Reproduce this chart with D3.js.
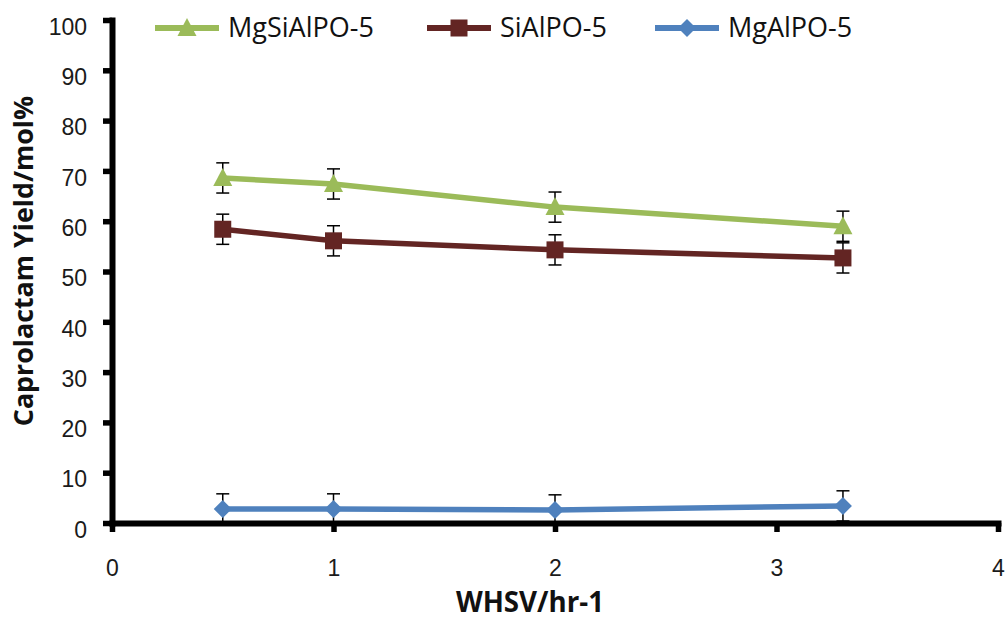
<!DOCTYPE html>
<html>
<head>
<meta charset="utf-8">
<script src="https://cdn.jsdelivr.net/npm/d3@7"></script>
<style>
	body { margin: 0; background: #fff; }
	svg { display: block; font-family: 'Open Sans', sans-serif; }
	.axis path, .axis line { stroke: #000; }
	.axis text { fill: #1a1a1a; font-size: 23px; }
</style>
</head>
<body>
<svg id="chart" width="1005" height="620"></svg>
<script>
// WHSV values on the x axis
const whsv = [0.5, 1, 2, 3.3];

// caprolactam yield (mol%) per catalyst
const mgSiAlPO = [68.6, 67.4, 62.8, 59.0];
const siAlPO = [58.4, 56.1, 54.3, 52.7];
const mgAlPO = [2.8, 2.8, 2.6, 3.4];

// error bar half widths
const mgSiAlPOErr = [3, 3, 3, 3];
const siAlPOErr = [3, 3, 3, 3];
const mgAlPOErr = [3, 3, 3, 3];

const xTicks = [0, 1, 2, 3, 4];
const yTicks = [0, 10, 20, 30, 40, 50, 60, 70, 80, 90, 100];

const series = [
	{ name: 'MgSiAlPO-5', values: mgSiAlPO, err: mgSiAlPOErr, color: '#9bbb59', shape: 'triangle' },
	{ name: 'SiAlPO-5', values: siAlPO, err: siAlPOErr, color: '#632523', shape: 'square' },
	{ name: 'MgAlPO-5', values: mgAlPO, err: mgAlPOErr, color: '#4f81bd', shape: 'diamond' }
];

const $svg = d3.select('#chart');
const margin = { left: 112, right: 1005 - 998, top: 20, bottom: 620 - 523 };
const width = 1005 - margin.left - margin.right;
const height = 620 - margin.top - margin.bottom;

const x = d3.scaleLinear().domain([0, 4]).range([0, width]);
const y = d3.scaleLinear().domain([0, 100]).range([height, 0]);

const $g = $svg.append('g').attr('transform', `translate(${margin.left},${margin.top})`);

function markerPath(shape) {
	if (shape === 'triangle') return 'M0,-10L9.5,8L-9.5,8Z';
	if (shape === 'square') return 'M-8.5,-8.5H8.5V8.5H-8.5Z';
	return 'M0,-9L9,0L0,9L-9,0Z';
}

// shrink or grow a text's font until it spans the wanted width
function fitWidth($t, target) {
	const size = +$t.attr('font-size');
	const w = $t.node().getComputedTextLength();
	if (w > 0) $t.attr('font-size', (size * target / w).toFixed(1));
}

// series lines, error bars and markers
const line = d3.line().x(d => x(d[0])).y(d => y(d[1]));

series.slice().reverse().forEach(s => {
	const pts = whsv.map((w, i) => [w, s.values[i], s.err[i]]);
	const $s = $g.append('g').attr('class', 'series');

	$s.append('path')
		.datum(pts)
		.attr('d', line)
		.attr('fill', 'none')
		.attr('stroke', s.color)
		.attr('stroke-width', 5.5);

	const $err = $s.selectAll('.err').data(pts).enter().append('g').attr('class', 'err')
		.attr('stroke', '#000').attr('stroke-width', 1.5);
	$err.append('line')
		.attr('x1', d => x(d[0])).attr('x2', d => x(d[0]))
		.attr('y1', d => y(d[1] - d[2])).attr('y2', d => y(d[1] + d[2]));
	[-1, 1].forEach(sign => {
		$err.append('line')
			.attr('x1', d => x(d[0]) - 6.5).attr('x2', d => x(d[0]) + 6.5)
			.attr('y1', d => y(d[1] + sign * d[2])).attr('y2', d => y(d[1] + sign * d[2]));
	});

	$s.selectAll('.pt').data(pts).enter().append('path')
		.attr('class', 'pt')
		.attr('d', markerPath(s.shape))
		.attr('transform', d => `translate(${x(d[0])},${y(d[1])})`)
		.attr('fill', s.color);
});

// axes
const $xAxis = $g.append('g').attr('class', 'axis')
	.attr('transform', `translate(0,${height})`)
	.call(d3.axisBottom(x).tickValues(xTicks).tickFormat(d3.format('d')).tickSize(9).tickSizeOuter(0).tickPadding(28));
const $yAxis = $g.append('g').attr('class', 'axis')
	.call(d3.axisLeft(y).tickValues(yTicks).tickSize(9).tickSizeOuter(0).tickPadding(16));

[$xAxis, $yAxis].forEach($a => {
	$a.select('.domain').attr('stroke-width', 6).attr('stroke-linecap', 'square');
	$a.selectAll('.tick line').attr('stroke-width', 5.5);
});
$yAxis.selectAll('.tick text').attr('dy', '0.62em');

// axis titles
const $yTitle = $svg.append('text')
	.attr('transform', 'translate(33,261) rotate(-90)')
	.attr('text-anchor', 'middle')
	.attr('font-size', 24)
	.attr('font-weight', 'bold')
	.attr('fill', '#111')
	.text('Caprolactam Yield/mol%');
fitWidth($yTitle, 330);

const $xTitle = $svg.append('text')
	.attr('x', 530)
	.attr('y', 612)
	.attr('text-anchor', 'middle')
	.attr('font-size', 24)
	.attr('font-weight', 'bold')
	.attr('fill', '#111')
	.text('WHSV/hr-1');
fitWidth($xTitle, 148);

// legend
const legendX = [155, 427, 655];
const $legend = $svg.append('g').attr('class', 'legend');
series.forEach((s, i) => {
	const $item = $legend.append('g').attr('transform', `translate(${legendX[i]},28)`);
	$item.append('line')
		.attr('x1', 0).attr('x2', 64)
		.attr('stroke', s.color).attr('stroke-width', 6);
	$item.append('path')
		.attr('d', markerPath(s.shape))
		.attr('transform', 'translate(32,0)')
		.attr('fill', s.color);
	$item.append('text')
		.attr('x', 73)
		.attr('y', 8.5)
		.attr('font-size', 27)
		.attr('fill', '#111')
		.text(s.name);
});
</script>
</body>
</html>
